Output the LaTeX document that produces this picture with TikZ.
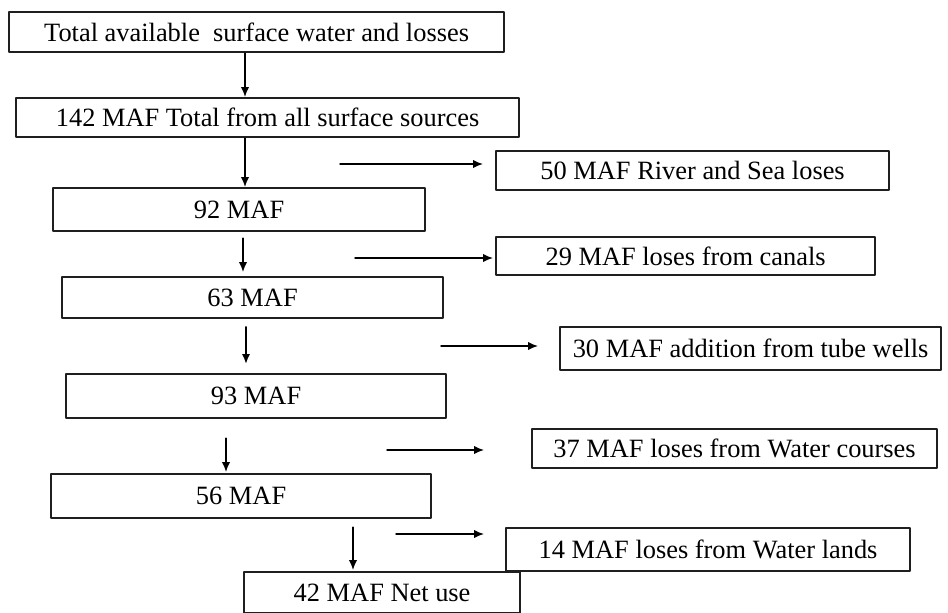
\documentclass[tikz,border=0pt]{standalone}
\usepackage{fontspec}
\setmainfont{Liberation Serif}
\usepackage{tikz}
\usetikzlibrary{arrows.meta}
\definecolor{linegray}{rgb}{0.12, 0.12, 0.12}

\begin{document}
\begin{tikzpicture}[line cap=round,line join=round, x=0.5pt,y=-0.5pt,
		box/.style={draw=linegray, line width=1.1pt, anchor=north west, inner sep=0pt, font=\fontsize{13.2}{15}\selectfont},
		flow/.style={-{Latex[length=5pt, width=4.2pt]}, line width=0.75pt, color=black}]
					\useasboundingbox (0,0) rectangle (948,612);
					% main chain
					\node[box, minimum width=247.5pt, minimum height=20pt] (b1) at (8,11) {Total available\ \ surface water and losses};
					\node[box, minimum width=251.5pt, minimum height=19.5pt] (b2) at (15,97) {142 MAF Total from all surface sources};
					\node[box, minimum width=186pt, minimum height=21.5pt] (b3) at (52,187) {92 MAF};
					\node[box, minimum width=190.5pt, minimum height=20.5pt] (b4) at (61,276) {63 MAF};
					\node[box, minimum width=190pt, minimum height=22pt] (b5) at (65,373) {93 MAF};
					\node[box, minimum width=190pt, minimum height=22pt] (b6) at (50,473) {56 MAF};
					\node[box, minimum width=138pt, minimum height=20.5pt] (b7) at (243,571) {42 MAF Net use};
					% losses and additions
					\node[box, minimum width=196.5pt, minimum height=19.5pt] (r1) at (495,150) {50 MAF River and Sea loses};
					\node[box, minimum width=189.5pt, minimum height=19pt] (r2) at (495,236) {29 MAF loses from canals};
					\node[box, minimum width=190.5pt, minimum height=21.5pt] (r3) at (559,326) {30 MAF addition from tube wells};
					\node[box, minimum width=202.5pt, minimum height=19.5pt] (r4) at (531,428) {37 MAF loses from Water courses};
					\node[box, minimum width=202pt, minimum height=21.5pt] (r5) at (505,527) {14 MAF loses from Water lands};
					% down arrows
					\foreach \a/\b/\x/\s/\e in {b1/b2/245/0pt/0pt, b2/b3/245/0pt/0pt, b3/b4/243/3pt/2pt, b5/b6/226/9.5pt/0.5pt, b6/b7/353/4pt/0.5pt}
					\draw[flow, shorten <=\s, shorten >=\e] (\x,0 |- \a.south) -- (\x,0 |- \b.north);
					\draw[flow, line width=1.3pt, shorten <=4pt, shorten >=4.5pt] (246,0 |- b4.south) -- (246,0 |- b5.north);
					% side arrows
					\coordinate (h1) at (340,164);
					\coordinate (h2) at (355,258);
					\coordinate (h3) at (441,346);
					\coordinate (h4) at (387,450);
					\coordinate (h5) at (396,534);
					\foreach \h/\r/\g in {h1/r1/6pt, h2/r2/1pt, h3/r3/10.5pt, h4/r4/23.5pt, h5/r5/10.5pt}
					\draw[flow, shorten >=\g] (\h) -- (\h -| \r.west);
				\end{tikzpicture}
\end{document}
